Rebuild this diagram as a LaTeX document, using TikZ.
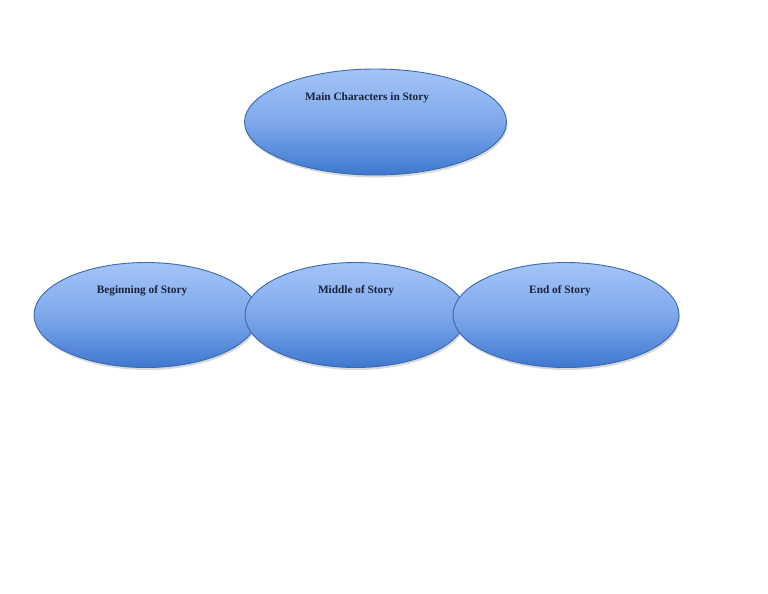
\documentclass[tikz,border=0pt]{standalone}
\usepackage{fontspec}
\setmainfont{Liberation Serif}
\usetikzlibrary{shapes.geometric,shadows}
\definecolor{topblue}{HTML}{A3C4F7}
\definecolor{midblue}{HTML}{7FA8EC}
\definecolor{botblue}{HTML}{3D78CF}
\definecolor{edgeblue}{HTML}{3A69AE}
\definecolor{txt}{HTML}{1A2236}
\tikzset{
  oval/.style={ellipse, draw=edgeblue, line width=0.9pt, top color=topblue, bottom color=botblue,
    middle color=midblue, inner sep=0pt,
    drop shadow={shadow xshift=1pt, shadow yshift=-2.5pt, opacity=0.3}},
  lbl/.style={font=\bfseries\fontsize{11.3}{13}\selectfont, text=txt}
}
\begin{document}
\begin{tikzpicture}[x=1pt,y=-1pt]
\useasboundingbox (0,0) rectangle (768,594);
\node[oval, minimum width=262pt, minimum height=106pt] (main) at (375.5,122) {};
\node[lbl] (mainl) at (367,97.5) {Main Characters in Story};
\node[oval, minimum width=224pt, minimum height=105pt] (beg) at (146,315) {};
\node[lbl] (begl) at (142,290.5) {Beginning of Story};
\node[oval, minimum width=221pt, minimum height=105pt] (mid) at (355.5,315) {};
\node[lbl] (midl) at (356,290.5) {Middle of Story};
\node[oval, minimum width=226pt, minimum height=105pt] (end) at (566,315) {};
\node[lbl] (endl) at (560,290.5) {End of Story};
\end{tikzpicture}
\end{document}
